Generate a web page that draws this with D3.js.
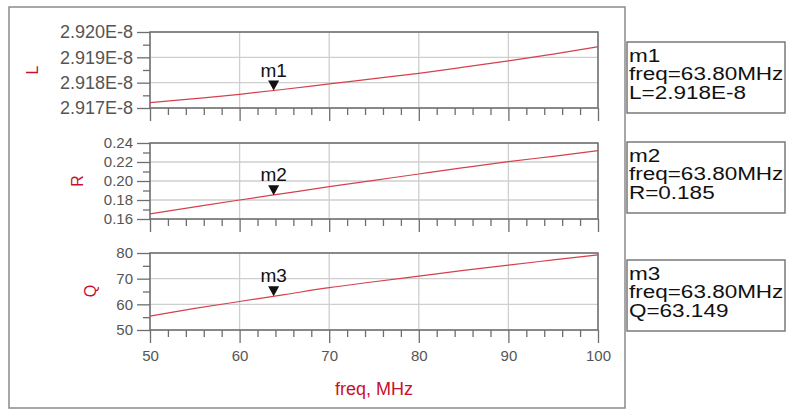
<!DOCTYPE html>
<html>
<head>
<meta charset="utf-8">
<script src="https://cdn.jsdelivr.net/npm/d3@7"></script>
<style>
  body { margin: 0; background: #fff; }
  svg { display: block; font-family: "Liberation Sans", Arial, sans-serif; }
</style>
</head>
<body>
<svg id="chart" width="787" height="412"></svg>
<script>
// sweep points, MHz
const freq = [50, 55, 60, 65, 70, 75, 80, 85, 90, 95, 100];
const L = [2.91721e-8, 2.91737e-8, 2.91754e-8, 2.91774e-8, 2.91795e-8, 2.91816e-8, 2.91837e-8, 2.91861e-8, 2.91886e-8, 2.91913e-8, 2.91942e-8];
const R = [0.1653, 0.1727, 0.180, 0.187, 0.194, 0.2007, 0.2074, 0.214, 0.2203, 0.226, 0.2319];
const Q = [55.4, 58.4, 61.1, 63.8, 66.5, 68.8, 71.0, 73.2, 75.3, 77.3, 79.3];

const xTicks = [50, 60, 70, 80, 90, 100];
const xMinor = d3.range(50, 101, 2);

const lTicks = [2.917e-8, 2.918e-8, 2.919e-8, 2.920e-8];
const lTickLabels = ['2.917E-8', '2.918E-8', '2.919E-8', '2.920E-8'];
const lMinor = [2.9175e-8, 2.9185e-8, 2.9195e-8];
const rTicks = [0.16, 0.18, 0.20, 0.22, 0.24];
const rTickLabels = ['0.16', '0.18', '0.20', '0.22', '0.24'];
const rMinor = [0.17, 0.19, 0.21, 0.23];
const qTicks = [50, 60, 70, 80];
const qTickLabels = ['50', '60', '70', '80'];
const qMinor = [55, 65, 75];

// markers
const markerNames = ['m1', 'm2', 'm3'];
const markerFreq = 63.8;
const markerValues = [2.91769e-8, 0.185, 63.149];
const markerLines = [
  ['m1', 'freq=63.80MHz', 'L=2.918E-8'],
  ['m2', 'freq=63.80MHz', 'R=0.185'],
  ['m3', 'freq=63.80MHz', 'Q=63.149']
];

const RED = '#c8102e';
const CURVE = '#d6404e';
const AXIS = '#6e6e6e';
const GRID = '#cfcfcf';
const LABEL = '#555';

const svg = d3.select('#chart');
svg.append('rect').attr('x', 9).attr('y', 7).attr('width', 616).attr('height', 401)
  .attr('fill', 'none').attr('stroke', '#8a8a8a').attr('stroke-width', 1.5);

const x = d3.scaleLinear().domain([50, 100]).range([150, 598]);

const panels = [
  { name: 'L', values: L, domain: [2.917e-8, 2.920e-8], range: [108, 32], ticks: lTicks, labels: lTickLabels, minor: lMinor, font: 18, labelPos: [32, 70] },
  { name: 'R', values: R, domain: [0.16, 0.24], range: [219, 143], ticks: rTicks, labels: rTickLabels, minor: rMinor, font: 15, labelPos: [77, 181] },
  { name: 'Q', values: Q, domain: [50, 80], range: [330, 253], ticks: qTicks, labels: qTickLabels, minor: qMinor, font: 15, labelPos: [90, 291] }
];

function styleAxis(g) {
  g.select('.domain').remove();
  g.selectAll('line').attr('stroke', AXIS).attr('stroke-width', 1.3);
  g.selectAll('text').attr('fill', LABEL);
}

panels.forEach((p, i) => {
  const y = d3.scaleLinear().domain(p.domain).range(p.range);
  const [bottom, top] = p.range;
  const g = svg.append('g');

  // grid
  g.selectAll('.hgrid').data(p.ticks).join('line')
    .attr('x1', x(50)).attr('x2', x(100)).attr('y1', d => y(d)).attr('y2', d => y(d))
    .attr('stroke', GRID).attr('stroke-width', 1.3);
  g.selectAll('.vgrid').data(xTicks).join('line')
    .attr('x1', d => x(d)).attr('x2', d => x(d)).attr('y1', top).attr('y2', bottom)
    .attr('stroke', GRID).attr('stroke-width', 1.3);

  // y axis, major + minor
  g.append('g').attr('transform', `translate(${x(50)},0)`)
    .call(d3.axisLeft(y).tickValues(p.ticks).tickSize(13).tickPadding(4).tickFormat((d, k) => p.labels[k]))
    .call(styleAxis)
    .selectAll('text').attr('font-size', p.font).attr('font-family', null);
  g.append('g').attr('transform', `translate(${x(50)},0)`)
    .call(d3.axisLeft(y).tickValues(p.minor).tickSize(7).tickFormat(''))
    .call(styleAxis);

  // x axis, major + minor
  const xa = g.append('g').attr('transform', `translate(0,${bottom})`)
    .call(d3.axisBottom(x).tickValues(xTicks).tickSize(13).tickPadding(7)
      .tickFormat(i === panels.length - 1 ? d3.format('d') : ''))
    .call(styleAxis);
  xa.selectAll('text').attr('font-size', 15).attr('font-family', null);
  g.append('g').attr('transform', `translate(0,${bottom})`)
    .call(d3.axisBottom(x).tickValues(xMinor.filter(d => !xTicks.includes(d))).tickSize(7).tickFormat(''))
    .call(styleAxis);

  // frame
  g.append('rect').attr('x', x(50)).attr('y', top).attr('width', x(100) - x(50)).attr('height', bottom - top)
    .attr('fill', 'none').attr('stroke', AXIS).attr('stroke-width', 1.5);

  // curve
  const line = d3.line().x((d, k) => x(freq[k])).y(d => y(d)).curve(d3.curveMonotoneX);
  g.append('path').datum(p.values).attr('d', line)
    .attr('fill', 'none').attr('stroke', CURVE).attr('stroke-width', 1.2);

  // axis name
  g.append('text').attr('transform', `translate(${p.labelPos[0]},${p.labelPos[1]}) rotate(-90)`)
    .attr('text-anchor', 'middle').attr('dy', '0.35em')
    .attr('fill', RED).attr('font-size', 16).text(p.name);

  // marker
  const mx = x(markerFreq), my = y(markerValues[i]);
  g.append('path').attr('d', `M${mx - 5.5},${my - 10}L${mx + 5.5},${my - 10}L${mx},${my}Z`).attr('fill', '#111');
  g.append('text').attr('x', mx).attr('y', my - 14).attr('text-anchor', 'middle')
    .attr('font-size', 19).attr('fill', '#111').text(markerNames[i]);
});

svg.append('text').attr('x', x(75)).attr('y', 389).attr('dy', '0.35em').attr('text-anchor', 'middle')
  .attr('fill', RED).attr('font-size', 18).text('freq, MHz');

// marker readout boxes
const boxTops = [42, 142, 260];
markerLines.forEach((lines, i) => {
  const b = svg.append('g');
  b.append('rect').attr('x', 627).attr('y', boxTops[i]).attr('width', 158).attr('height', 71)
    .attr('fill', '#fff').attr('stroke', '#7a7a7a').attr('stroke-width', 1.5);
  const t = b.append('g').attr('transform', `translate(629,${boxTops[i]}) scale(1.25,1)`);
  t.selectAll('text').data(lines).join('text')
    .attr('x', 0).attr('y', (d, k) => 20 + k * 18.5)
    .attr('font-size', 18).attr('fill', '#111').text(d => d);
});
</script>
</body>
</html>
